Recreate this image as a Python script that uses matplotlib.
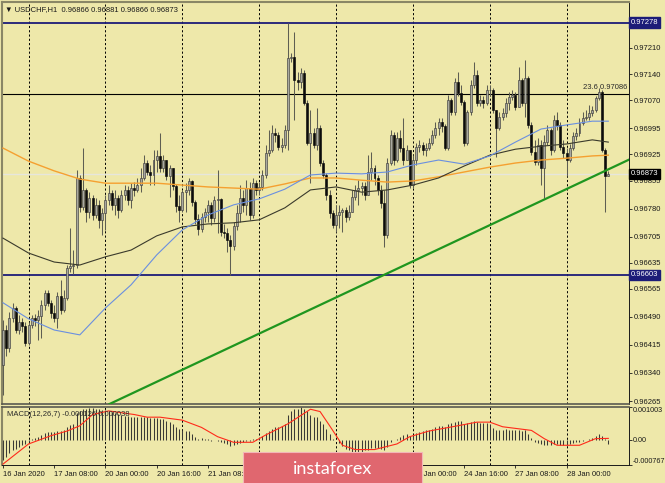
import numpy as np
import matplotlib
matplotlib.use("Agg")
import matplotlib.pyplot as plt
import matplotlib.transforms as mtransforms
from matplotlib.patches import FancyBboxPatch

# -----------------------------
# --- Data (USDCHF H1)
# -----------------------------
first_open = 0.96362

close = [
    0.96455, 0.96407, 0.96487, 0.96514, 0.96455, 0.96477, 0.96466, 0.96420, 0.96469, 0.96487,
    0.96482, 0.96493, 0.96522, 0.96554, 0.96528, 0.96501, 0.96487, 0.96546, 0.96509, 0.96541,
    0.96621, 0.96626, 0.96629, 0.96862, 0.96784, 0.96830, 0.96771, 0.96808, 0.96763, 0.96790,
    0.96750, 0.96768, 0.96803, 0.96822, 0.96790, 0.96808, 0.96776, 0.96816, 0.96830, 0.96803,
    0.96835, 0.96830, 0.96843, 0.96862, 0.96902, 0.96878, 0.96870, 0.96910, 0.96921, 0.96889,
    0.96910, 0.96867, 0.96889, 0.96840, 0.96787, 0.96776, 0.96824, 0.96830, 0.96854, 0.96798,
    0.96752, 0.96725, 0.96758, 0.96771, 0.96790, 0.96755, 0.96803, 0.96806, 0.96717, 0.96715,
    0.96696, 0.96680, 0.96733, 0.96768, 0.96808, 0.96790, 0.96835, 0.96763, 0.96848, 0.96830,
    0.96838, 0.96870, 0.96929, 0.96937, 0.96982, 0.96977, 0.96945, 0.96950, 0.96990, 0.97183,
    0.97185, 0.97124, 0.97119, 0.97143, 0.97062, 0.96955, 0.96982, 0.96950, 0.96996, 0.96902,
    0.96870, 0.96816, 0.96768, 0.96736, 0.96763, 0.96771, 0.96776, 0.96758, 0.96771, 0.96811,
    0.96830, 0.96835, 0.96840, 0.96816, 0.96878, 0.96889, 0.96862, 0.96830, 0.96795, 0.96709,
    0.96902, 0.96977, 0.96910, 0.96969, 0.96942, 0.96910, 0.96937, 0.96843, 0.96910, 0.96945,
    0.96950, 0.96937, 0.96942, 0.96955, 0.96977, 0.96996, 0.97012, 0.97001, 0.96942, 0.97070,
    0.97038, 0.97119, 0.97089, 0.97065, 0.96955, 0.97038, 0.97111, 0.97137, 0.97062, 0.97070,
    0.97062, 0.97097, 0.97097, 0.97044, 0.96996, 0.97025, 0.97036, 0.97062, 0.97079, 0.97084,
    0.97052, 0.97124, 0.97062, 0.97129, 0.97004, 0.96931, 0.96905, 0.96950, 0.96889, 0.96958,
    0.96990, 0.96937, 0.97017, 0.97004, 0.96945, 0.96929, 0.96910, 0.96942, 0.96974, 0.96982,
    0.97009, 0.97022, 0.97025, 0.97036, 0.97044, 0.97076, 0.97092, 0.96937, 0.96866, 0.96873,
]

high = [
    0.96482, 0.96469, 0.96503, 0.96528, 0.96519, 0.96495, 0.96487, 0.96477, 0.96477, 0.96495,
    0.96498, 0.96509, 0.96535, 0.96562, 0.96562, 0.96535, 0.96522, 0.96557, 0.96589, 0.96562,
    0.96629, 0.96728, 0.96669, 0.96883, 0.96870, 0.96942, 0.96835, 0.96824, 0.96816, 0.96808,
    0.96803, 0.96782, 0.96816, 0.96843, 0.96830, 0.96830, 0.96816, 0.96830, 0.96843, 0.96840,
    0.96848, 0.96851, 0.96862, 0.96889, 0.96923, 0.96910, 0.96897, 0.96937, 0.96937, 0.96982,
    0.96923, 0.96910, 0.96897, 0.96889, 0.96846, 0.96816, 0.96830, 0.96848, 0.96862, 0.96856,
    0.96803, 0.96766, 0.96768, 0.96782, 0.96803, 0.96798, 0.96814, 0.96883, 0.96808, 0.96739,
    0.96728, 0.96709, 0.96744, 0.96790, 0.96843, 0.96830, 0.96856, 0.96851, 0.96862, 0.96856,
    0.96851, 0.96883, 0.96950, 0.96990, 0.97004, 0.96996, 0.96985, 0.96969, 0.97004, 0.97278,
    0.97196, 0.97252, 0.97145, 0.97156, 0.97151, 0.97070, 0.97044, 0.96996, 0.97049, 0.97004,
    0.96910, 0.96875, 0.96830, 0.96776, 0.96790, 0.96790, 0.96782, 0.96784, 0.96790, 0.96830,
    0.96843, 0.96856, 0.96851, 0.96851, 0.96923, 0.96931, 0.96897, 0.96870, 0.96843, 0.96830,
    0.96915, 0.96990, 0.96985, 0.96985, 0.96990, 0.97022, 0.96950, 0.96937, 0.96923, 0.96955,
    0.96964, 0.96958, 0.96955, 0.96969, 0.96990, 0.97012, 0.97022, 0.97022, 0.97006, 0.97084,
    0.97076, 0.97129, 0.97145, 0.97111, 0.97070, 0.97044, 0.97124, 0.97172, 0.97151, 0.97084,
    0.97081, 0.97111, 0.97111, 0.97103, 0.97044, 0.97038, 0.97049, 0.97076, 0.97092, 0.97097,
    0.97092, 0.97159, 0.97129, 0.97178, 0.97135, 0.97012, 0.96964, 0.96969, 0.96964, 0.96977,
    0.97004, 0.96996, 0.97030, 0.97038, 0.97012, 0.96964, 0.96942, 0.96953, 0.96985, 0.96996,
    0.97022, 0.97038, 0.97044, 0.97057, 0.97054, 0.97081, 0.97103, 0.97097, 0.96942, 0.96881,
]

low = [
    0.96281, 0.96386, 0.96396, 0.96477, 0.96447, 0.96445, 0.96450, 0.96412, 0.96415, 0.96461,
    0.96466, 0.96428, 0.96434, 0.96509, 0.96519, 0.96487, 0.96477, 0.96461, 0.96498, 0.96503,
    0.96535, 0.96610, 0.96605, 0.96621, 0.96771, 0.96776, 0.96744, 0.96755, 0.96750, 0.96755,
    0.96728, 0.96709, 0.96723, 0.96790, 0.96776, 0.96763, 0.96755, 0.96771, 0.96803, 0.96790,
    0.96782, 0.96814, 0.96824, 0.96824, 0.96856, 0.96870, 0.96843, 0.96843, 0.96878, 0.96878,
    0.96878, 0.96856, 0.96811, 0.96830, 0.96771, 0.96744, 0.96771, 0.96771, 0.96816, 0.96787,
    0.96739, 0.96709, 0.96717, 0.96744, 0.96744, 0.96736, 0.96744, 0.96715, 0.96707, 0.96701,
    0.96664, 0.96603, 0.96669, 0.96723, 0.96744, 0.96771, 0.96763, 0.96750, 0.96755, 0.96816,
    0.96816, 0.96830, 0.96862, 0.96921, 0.96931, 0.96958, 0.96937, 0.96931, 0.96942, 0.96937,
    0.97172, 0.97017, 0.97097, 0.97103, 0.97057, 0.96950, 0.96848, 0.96942, 0.96937, 0.96894,
    0.96862, 0.96803, 0.96755, 0.96728, 0.96717, 0.96728, 0.96717, 0.96744, 0.96750, 0.96771,
    0.96803, 0.96790, 0.96816, 0.96803, 0.96816, 0.96856, 0.96843, 0.96816, 0.96782, 0.96677,
    0.96701, 0.96897, 0.96897, 0.96905, 0.96931, 0.96897, 0.96910, 0.96835, 0.96835, 0.96897,
    0.96931, 0.96923, 0.96921, 0.96937, 0.96950, 0.96969, 0.96977, 0.96985, 0.96937, 0.96937,
    0.97030, 0.97030, 0.97081, 0.97057, 0.96947, 0.96950, 0.97030, 0.97103, 0.97054, 0.97054,
    0.97049, 0.97057, 0.97081, 0.97036, 0.96918, 0.96990, 0.97017, 0.97025, 0.97044, 0.97070,
    0.97044, 0.97052, 0.97054, 0.97025, 0.96996, 0.96923, 0.96897, 0.96897, 0.96843, 0.96808,
    0.96950, 0.96923, 0.96931, 0.96990, 0.96937, 0.96915, 0.96867, 0.96905, 0.96937, 0.96964,
    0.96974, 0.97004, 0.97017, 0.97017, 0.97028, 0.97038, 0.97070, 0.96931, 0.96771, 0.96866,
]

# moving averages, sampled every 8 bars
ma_bars = [0, 8, 16, 24, 32, 40, 48, 56, 64, 72, 80, 88, 96, 104, 112, 120,
           128, 136, 144, 152, 160, 168, 176, 184, 189]
ma_blue = [0.96528, 0.96485, 0.96455, 0.96442, 0.96514, 0.96576, 0.96656, 0.96723, 0.96763,
           0.96790, 0.96806, 0.96832, 0.96870, 0.96875, 0.96873, 0.96878, 0.96897, 0.96910,
           0.96899, 0.96921, 0.96958, 0.96993, 0.97004, 0.97014, 0.97014]
ma_black = [0.96701, 0.96661, 0.96637, 0.96629, 0.96651, 0.96669, 0.96707, 0.96731, 0.96739,
            0.96742, 0.96750, 0.96782, 0.96830, 0.96838, 0.96824, 0.96830, 0.96843, 0.96862,
            0.96894, 0.96923, 0.96939, 0.96947, 0.96953, 0.96964, 0.96958]
ma_orange = [0.96942, 0.96907, 0.96881, 0.96859, 0.96848, 0.96848, 0.96848, 0.96843, 0.96838,
             0.96835, 0.96832, 0.96846, 0.96862, 0.96862, 0.96856, 0.96851, 0.96854, 0.96865,
             0.96878, 0.96891, 0.96902, 0.96910, 0.96915, 0.96921, 0.96923]

# trend line anchors (bar, price) and horizontal levels
trend_bars = [36, 189]
trend_prices = [0.96268, 0.96885]
level_high = 0.97278
level_low = 0.96603
fib_level = 0.97086
bid = 0.96873

# MACD(12,26,7)
macd_main = [
    -0.00063, -0.00054, -0.00041, -0.00032, -0.00028, -0.00021, -0.00016, -0.00013, -0.00006, 0.00001,
    0.00006, 0.00009, 0.00014, 0.00019, 0.00022, 0.00024, 0.00023, 0.00026, 0.00027, 0.00029,
    0.00037, 0.00043, 0.00048, 0.00081, 0.00087, 0.00094, 0.00094, 0.00097, 0.00096, 0.00094,
    0.00092, 0.00090, 0.00090, 0.00088, 0.00083, 0.00081, 0.00078, 0.00076, 0.00073, 0.00072,
    0.00070, 0.00070, 0.00068, 0.00068, 0.00070, 0.00068, 0.00067, 0.00066, 0.00064, 0.00063,
    0.00061, 0.00057, 0.00053, 0.00048, 0.00039, 0.00031, 0.00028, 0.00026, 0.00026, 0.00017,
    0.00009, 0.00003, 0.00006, 0.00003, 0.00001, -0.00003, -0.00002, -0.00003, -0.00008, -0.00010,
    -0.00013, -0.00019, -0.00017, -0.00013, -0.00010, -0.00006, -0.00003, -0.00003, 0.00001, 0.00001,
    0.00006, 0.00012, 0.00020, 0.00026, 0.00031, 0.00037, 0.00039, 0.00042, 0.00048, 0.00076,
    0.00087, 0.00092, 0.00094, 0.00098, 0.00094, 0.00087, 0.00076, 0.00070, 0.00068, 0.00057,
    0.00046, 0.00031, 0.00017, 0.00003, -0.00002, -0.00010, -0.00019, -0.00028, -0.00032, -0.00036,
    -0.00037, -0.00037, -0.00036, -0.00032, -0.00030, -0.00024, -0.00024, -0.00024, -0.00028, -0.00032,
    -0.00021, -0.00008, -0.00002, 0.00003, 0.00009, 0.00014, 0.00017, 0.00012, 0.00014, 0.00019,
    0.00022, 0.00026, 0.00028, 0.00030, 0.00033, 0.00037, 0.00040, 0.00040, 0.00039, 0.00048,
    0.00050, 0.00053, 0.00057, 0.00056, 0.00048, 0.00050, 0.00053, 0.00056, 0.00052, 0.00051,
    0.00050, 0.00050, 0.00048, 0.00034, 0.00028, 0.00029, 0.00030, 0.00031, 0.00030, 0.00030,
    0.00028, 0.00030, 0.00026, 0.00028, 0.00017, 0.00006, -0.00006, -0.00010, -0.00014, -0.00017,
    -0.00017, -0.00017, -0.00014, -0.00014, -0.00016, -0.00017, -0.00016, -0.00013, -0.00011, -0.00008,
    -0.00006, -0.00003, -0.00002, 0.00001, 0.00006, 0.00012, 0.00017, 0.00012, 0.00001, -0.000126,
]
signal_bars = [0, 8, 15, 20, 24, 28, 33, 41, 45, 49, 56, 62, 67, 72, 78, 82, 89, 96, 99,
               102, 106, 110, 116, 123, 127, 133, 142, 148, 152, 156, 165, 169, 173, 180, 185, 189]
signal_vals = [-0.00074, -0.00013, 0.00012, 0.00026, 0.00042, 0.00076, 0.00087, 0.00076,
               0.00068, 0.00068, 0.00059, 0.00037, 0.00009, -0.00008, -0.00008, 0.00014,
               0.00048, 0.00092, 0.00085, 0.00042, -0.00017, -0.00030, -0.00030, -0.00013,
               0.00009, 0.00026, 0.00042, 0.00053, 0.00053, 0.00039, 0.00028, 0.00003,
               -0.00017, -0.00017, 0.00003, 0.000038]

# axis labels (the ones under the watermark are not visible in the original)
price_ticks = [0.97210, 0.97140, 0.97070, 0.96995, 0.96925, 0.96855, 0.96780, 0.96705,
               0.96635, 0.96565, 0.96490, 0.96415, 0.96340, 0.96265]
day_starts = [8, 32, 56, 80, 104, 128, 152, 176]
date_ticks = [0, 16, 32, 48, 64, 80, 96, 112, 128, 144, 160, 176]
date_labels = ["16 Jan 2020", "17 Jan 08:00", "20 Jan 00:00", "20 Jan 16:00", "21 Jan 08:00",
               "", "", "", "24 Jan 00:00", "24 Jan 16:00",
               "27 Jan 08:00", "28 Jan 00:00"]

# -----------------------------
# --- Style
# -----------------------------
bg = "#EEE8AA"
frame = "#8a8766"
plt.rcParams["font.family"] = ["Liberation Sans", "DejaVu Sans"]
fs = 5.5

fig = plt.figure(figsize=(6.65, 4.83), dpi=100, facecolor=bg)
ax = fig.add_axes([2 / 665, 1 - 404 / 483, 626.5 / 665, 402 / 483], facecolor=bg)
axm = fig.add_axes([2 / 665, 1 - 465 / 483, 626.5 / 665, 58.5 / 483], facecolor=bg, sharex=ax)

n = len(close)
bars = np.arange(n)
o = np.array([first_open] + close[:-1])
c = np.array(close)
h = np.array(high)
l = np.array(low)

# -----------------------------
# --- Main panel
# -----------------------------
for b in day_starts:
    ax.axvline(b, color="black", lw=0.7, ls=(0, (2.2, 2.2)), zorder=1)
    axm.axvline(b, color="black", lw=0.7, ls=(0, (2.2, 2.2)), zorder=1)

ax.axhline(bid, color="#e6e6dc", lw=1.0, zorder=1)
ax.axhline(level_high, color="#1c1c78", lw=1.3, zorder=1)
ax.axhline(level_low, color="#1c1c78", lw=1.3, zorder=1)
ax.axhline(fib_level, color="black", lw=0.8, zorder=1)

ax.vlines(bars, l, h, color="#5e5e52", lw=0.75, zorder=2)
up = c >= o
body_h = np.maximum(np.abs(c - o), 0.000012)
body_b = np.minimum(o, c)
ax.bar(bars[up], body_h[up], bottom=body_b[up], width=0.62, color="#a9a9a0",
       edgecolor="#3d3d3d", linewidth=0.45, zorder=3)
ax.bar(bars[~up], body_h[~up], bottom=body_b[~up], width=0.62, color="#0c0c0c",
       edgecolor="#0c0c0c", linewidth=0.45, zorder=3)

ax.plot(ma_bars, ma_orange, color="#f5a030", lw=1.0, zorder=4)
ax.plot(ma_bars, ma_black, color="#3a3a2c", lw=0.8, zorder=4)
ax.plot(ma_bars, ma_blue, color="#6a8fe0", lw=0.8, zorder=4)
ax.axline((trend_bars[0], trend_prices[0]), (trend_bars[1], trend_prices[1]),
          color="#1f961f", lw=1.6, zorder=5)

ax.set_xlim(-0.3, 195.3)
ax.set_ylim(0.96257, 0.97333)

ax.yaxis.tick_right()
ax.set_yticks(price_ticks)
ax.set_yticklabels([f"{p:.5f}" for p in price_ticks])
ax.tick_params(axis="y", direction="out", length=2.5, width=0.6, pad=1.5,
               labelsize=fs, colors="#1a1a1a")
ax.tick_params(axis="x", bottom=False, labelbottom=False)

trans = mtransforms.blended_transform_factory(ax.transAxes, ax.transData)
for val, fc in [(level_high, "#1c1c78"), (level_low, "#1c1c78"), (bid, "#000000")]:
    ax.text(1.004, val, f"{val:.5f}", transform=trans, ha="left", va="center",
            fontsize=fs, color="white", clip_on=False, zorder=10,
            bbox=dict(boxstyle="square,pad=0.22", fc=fc, ec=fc))

ax.text(0.998, fib_level + 0.00009, "23.6 0.97086", transform=trans, ha="right",
        va="bottom", fontsize=fs, color="#2a2a2a")
ax.text(0.004, 0.99, "\u25bc USDCHF,H1  0.96866 0.96881 0.96866 0.96873",
        transform=ax.transAxes, ha="left", va="top", fontsize=fs, color="#1a1a1a")

for side in ["left", "top"]:
    ax.spines[side].set_color(frame)
    ax.spines[side].set_linewidth(1.5)
ax.spines["right"].set_color("#1a1a1a")
ax.spines["right"].set_linewidth(0.7)
ax.spines["bottom"].set_color("#5a5a50")
ax.spines["bottom"].set_linewidth(1.2)

# -----------------------------
# --- MACD panel
# -----------------------------
axm.vlines(bars, 0, macd_main, color="#3a3a36", lw=0.75, zorder=2)
axm.plot(signal_bars, signal_vals, color="#ff2a1a", lw=0.8, zorder=3)
axm.set_ylim(-0.000767, 0.001003)

axm.yaxis.tick_right()
axm.set_yticks([0.001003, 0.0, -0.000767])
axm.set_yticklabels(["0.001003", "0.00", "-0.000767"])
ylabels = axm.get_yticklabels()
ylabels[0].set_va("top")
ylabels[2].set_va("bottom")
axm.tick_params(axis="y", direction="out", length=2.0, width=0.6, pad=0.8,
                labelsize=5.2, colors="#1a1a1a")

axm.set_xticks(date_ticks)
axm.set_xticklabels(date_labels, ha="left")
axm.tick_params(axis="x", direction="out", length=2.5, width=0.6, pad=1.5,
                labelsize=fs, colors="#1a1a1a")

axm.text(0.008, 0.93, "MACD(12,26,7) -0.000126 0.000038", transform=axm.transAxes,
         ha="left", va="top", fontsize=fs, color="#2a2a2a")

axm.spines["left"].set_color(frame)
axm.spines["left"].set_linewidth(1.5)
axm.spines["top"].set_color("#5a5a50")
axm.spines["top"].set_linewidth(1.2)
axm.spines["right"].set_color("#1a1a1a")
axm.spines["right"].set_linewidth(0.7)
axm.spines["bottom"].set_color("#1a1a1a")
axm.spines["bottom"].set_linewidth(0.7)

# -----------------------------
# --- Watermark
# -----------------------------
logo = FancyBboxPatch((243 / 665, -0.01), 179 / 665, 31 / 483 + 0.01,
                      boxstyle="square,pad=0", transform=fig.transFigure,
                      fc="#e0676f", ec="#f3b8b8", lw=0.8, zorder=20)
fig.patches.append(logo)
fig.text(333 / 665, 14 / 483, "instaforex", ha="center", va="center", fontsize=13,
         color="white", family=["Lato", "DejaVu Sans"], zorder=21)

fig.savefig("out.png", dpi=100, facecolor=bg)
